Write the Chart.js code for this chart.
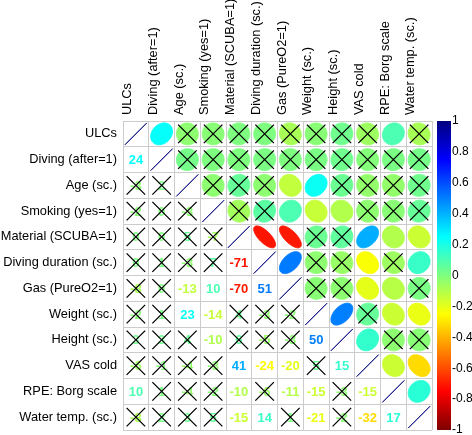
<!DOCTYPE html>
<html>
<head>
<meta charset="utf-8">
<script src="https://cdn.jsdelivr.net/npm/chart.js@4"></script>
<style>
  html, body { margin: 0; padding: 0; background: #fff; }
  #wrap { width: 472px; height: 435px; }
</style>
</head>
<body>
<div id="wrap"><canvas id="corrChart"></canvas></div>
<script>
// Variables (same order on both axes)
const variables = [
    'ULCs', 'Diving (after=1)', 'Age (sc.)', 'Smoking (yes=1)', 'Material (SCUBA=1)',
    'Diving duration (sc.)', 'Gas (PureO2=1)', 'Weight (sc.)', 'Height (sc.)',
    'VAS cold', 'RPE: Borg scale', 'Water temp. (sc.)'
];

// Correlations x100, lower triangle (row i, columns 0..i)
const corrLower = [
    [100],
    [24, 100],
    [-3, 2, 100],
    [-2, 0, -3, 100],
    [0, 0, 5, -7, 100],
    [0, 1, -3, 7, -71, 100],
    [-8, 0, -13, 10, -70, 51, 100],
    [-2, 1, 23, -14, 4, -3, -2, 100],
    [3, 3, 4, -10, 6, -5, -3, 50, 100],
    [-6, -1, -4, -3, 41, -24, -20, 5, 15, 100],
    [10, 1, -4, -2, -10, -6, -11, -15, -3, -15, 100],
    [-8, 2, 3, 5, -15, 14, 1, -21, -2, -32, 17, 100]
];

// Significant (1) or not (0), lower triangle without diagonal
const sigLower = [
    [],
    [1],
    [0, 0],
    [0, 0, 0],
    [0, 0, 0, 0],
    [0, 0, 0, 0, 1],
    [0, 0, 1, 1, 1, 1],
    [0, 0, 1, 1, 0, 0, 0],
    [0, 0, 0, 1, 0, 0, 0, 1],
    [0, 0, 0, 0, 1, 1, 1, 0, 1],
    [1, 0, 0, 0, 1, 0, 1, 1, 0, 1],
    [0, 0, 0, 0, 1, 1, 0, 1, 0, 1, 1]
];

// Colour bar tick labels
const colorBarTicks = [-1, -0.8, -0.6, -0.4, -0.2, 0, 0.2, 0.4, 0.6, 0.8, 1];

// Palette from -1 to 1
const paletteStops = ['#7F0000', '#FF0000', '#FF7F00', '#FFFF00', '#7FFF7F',
                      '#00FFFF', '#007FFF', '#0000FF', '#00007F'];

const gridColor = '#cccccc';
Chart.defaults.font.family = '"Liberation Sans", Arial, Helvetica, sans-serif';

function corrAt(i, j) {
    return i >= j ? corrLower[i][j] : corrLower[j][i];
}
function sigAt(i, j) {
    if (i === j) return true;
    return i > j ? sigLower[i][j] === 1 : sigLower[j][i] === 1;
}

function hexToRgb(h) {
    return [parseInt(h.slice(1, 3), 16), parseInt(h.slice(3, 5), 16), parseInt(h.slice(5, 7), 16)];
}
function colorFor(v) {
    const p = (Math.max(-1, Math.min(1, v)) + 1) / 2 * (paletteStops.length - 1);
    const k = Math.min(Math.floor(p), paletteStops.length - 2);
    const t = p - k;
    const a = hexToRgb(paletteStops[k]);
    const b = hexToRgb(paletteStops[k + 1]);
    const c = a.map((x, n) => Math.round(x + (b[n] - x) * t));
    return 'rgb(' + c.join(',') + ')';
}

// One point per cell
const cells = [];
for (let i = 0; i < variables.length; i++) {
    for (let j = 0; j < variables.length; j++) {
        cells.push({ x: variables[j], y: variables[i], row: i, col: j });
    }
}

function drawCross(ctx, x, y, h) {
    ctx.save();
    ctx.strokeStyle = '#000';
    ctx.lineWidth = 1.3;
    ctx.beginPath();
    ctx.moveTo(x - h, y - h);
    ctx.lineTo(x + h, y + h);
    ctx.moveTo(x + h, y - h);
    ctx.lineTo(x - h, y + h);
    ctx.stroke();
    ctx.restore();
}

function drawEllipse(ctx, x, y, size, rho, color) {
    const a = Math.acos(Math.max(-1, Math.min(1, rho)));
    const s = 0.85 * size;
    ctx.save();
    ctx.beginPath();
    for (let n = 0; n < 99; n++) {
        const k = n / 98 * 2 * Math.PI;
        const ex = Math.cos(k + a / 2) / 2 * s;
        const ey = Math.cos(k - a / 2) / 2 * s;
        if (n === 0) ctx.moveTo(x + ex, y - ey);
        else ctx.lineTo(x + ex, y - ey);
    }
    ctx.closePath();
    ctx.fillStyle = color;
    ctx.strokeStyle = color;
    ctx.lineWidth = 1;
    ctx.fill();
    ctx.stroke();
    ctx.restore();
}

const corrplotPlugin = {
    id: 'corrplot',
    afterDatasetsDraw(chart) {
        const ctx = chart.ctx;
        const xs = chart.scales.x;
        const ys = chart.scales.y;
        const cell = Math.min(
            Math.abs(xs.getPixelForValue(1) - xs.getPixelForValue(0)),
            Math.abs(ys.getPixelForValue(1) - ys.getPixelForValue(0))
        );
        const meta = chart.getDatasetMeta(0);
        meta.data.forEach((el, k) => {
            const d = chart.data.datasets[0].data[k];
            const v = corrAt(d.row, d.col);
            const color = colorFor(v / 100);
            if (d.row > d.col) {
                ctx.save();
                ctx.fillStyle = color;
                ctx.font = 'bold 13px "Liberation Sans", Arial, sans-serif';
                ctx.textAlign = 'center';
                ctx.textBaseline = 'middle';
                ctx.fillText(String(v), el.x, el.y + 1);
                ctx.restore();
            } else {
                drawEllipse(ctx, el.x, el.y, cell, v / 100, color);
            }
            if (!sigAt(d.row, d.col)) {
                drawCross(ctx, el.x, el.y, cell * 0.36);
            }
        });
    },
    afterDraw(chart) {
        const ctx = chart.ctx;
        const cb = chart.scales.cb;
        const top = cb.getPixelForValue(1);
        const bot = cb.getPixelForValue(-1);
        const left = chart.chartArea.right + 5;
        const g = ctx.createLinearGradient(0, bot, 0, top);
        paletteStops.forEach((c, k) => g.addColorStop(k / (paletteStops.length - 1), c));
        ctx.save();
        ctx.fillStyle = g;
        ctx.fillRect(left, top, 14, bot - top);
        ctx.restore();
    }
};

function noPad(scale) {
    scale.paddingTop = 0;
    scale.paddingBottom = 0;
    scale.paddingLeft = 0;
    scale.paddingRight = 0;
}

new Chart(document.getElementById('corrChart'), {
    type: 'scatter',
    data: {
        datasets: [{ data: cells, pointRadius: 0, pointHoverRadius: 0 }]
    },
    options: {
        responsive: true,
        maintainAspectRatio: false,
        animation: false,
        events: [],
        layout: { padding: { top: 0, bottom: 5, left: 0, right: 0 } },
        plugins: {
            legend: { display: false },
            tooltip: { enabled: false }
        },
        scales: {
            x: {
                type: 'category',
                labels: variables,
                position: 'top',
                offset: true,
                grid: { offset: true, color: gridColor, drawTicks: false },
                border: { color: gridColor },
                afterFit: (scale) => { noPad(scale); scale.height = 121; },
                ticks: {
                    autoSkip: false,
                    maxRotation: 90,
                    minRotation: 90,
                    padding: 6,
                    labelOffset: 7,
                    color: '#000',
                    font: { size: 12.8 }
                }
            },
            y: {
                type: 'category',
                labels: variables,
                position: 'left',
                offset: true,
                grid: { offset: true, color: gridColor, drawTicks: false },
                border: { color: gridColor },
                afterFit: (scale) => { noPad(scale); scale.width = 123; },
                ticks: {
                    autoSkip: false,
                    padding: 6,
                    color: '#000',
                    font: { size: 12.8 }
                }
            },
            cb: {
                type: 'linear',
                position: 'right',
                min: -1,
                max: 1,
                grid: { display: false, drawTicks: false },
                border: { display: false },
                afterBuildTicks: (axis) => {
                    axis.ticks = colorBarTicks.map(v => ({ value: v }));
                },
                afterFit: (scale) => { noPad(scale); scale.width = 40; },
                ticks: {
                    padding: 20,
                    color: '#000',
                    font: { size: 12 },
                    callback: (value) => String(Math.round(value * 10) / 10)
                }
            }
        }
    },
    plugins: [corrplotPlugin]
});
</script>
</body>
</html>
